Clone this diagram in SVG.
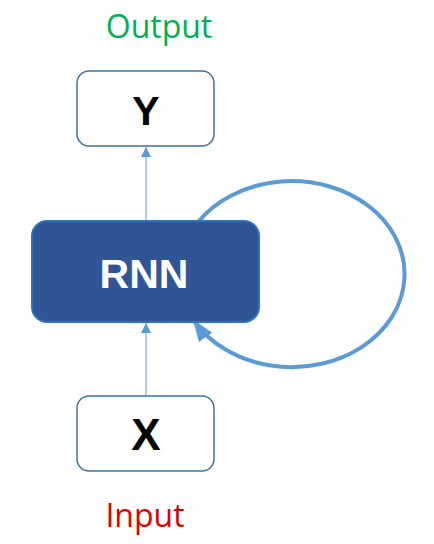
<svg xmlns="http://www.w3.org/2000/svg" width="434" height="544" viewBox="0 0 434 544">
  <style>
    .box { fill: #ffffff; stroke: #41719c; stroke-width: 1.5; }
    .core { fill: #2f5597; stroke: #2e75b6; stroke-width: 2; }
    .sym { font-family: "Liberation Sans", Arial, sans-serif; font-weight: bold; text-anchor: middle; }
    .cap { font-family: "Open Sans", "Liberation Sans", sans-serif; font-size: 32px; text-anchor: middle; }
    .thin { stroke: #5b9bd5; stroke-width: 1; fill: none; }
    .loop { stroke: #5b9bd5; stroke-width: 4; fill: none; }
  </style>
  <defs>
    <marker id="tip" markerUnits="userSpaceOnUse" markerWidth="10" markerHeight="10" refX="10" refY="5" orient="auto">
      <path d="M0,0 L10,5 L0,10 Z" fill="#5b9bd5"/>
    </marker>
    <marker id="bigTip" markerUnits="userSpaceOnUse" markerWidth="22" markerHeight="18" refX="20" refY="9" orient="auto">
      <path d="M0,1 L22,9 L0,17 Z" fill="#5b9bd5"/>
    </marker>
  </defs>

  <text class="cap" x="159" y="38" fill="#00b050">Output</text>
  <text class="cap" x="145" y="527" fill="#e00000">Input</text>

  <g id="connectors">
    <line class="thin" x1="146" y1="221" x2="146" y2="147" marker-end="url(#tip)"/>
    <line class="thin" x1="146" y1="395" x2="146" y2="323" marker-end="url(#tip)"/>
    <path class="loop" d="M198,222 A113,93 0 1 1 194,321" marker-end="url(#bigTip)"/>
  </g>

  <g id="node-y">
    <rect class="box" x="77" y="71" width="137" height="75" rx="12"/>
    <text class="sym" x="146" y="125" font-size="41" fill="#000000">Y</text>
  </g>

  <g id="node-rnn">
    <rect class="core" x="32" y="221" width="227" height="101" rx="15"/>
    <text class="sym" x="144" y="288" font-size="41" fill="#ffffff">RNN</text>
  </g>

  <g id="node-x">
    <rect class="box" x="77" y="396" width="137" height="75" rx="12"/>
    <text class="sym" x="146" y="450" font-size="44" fill="#000000">X</text>
  </g>
</svg>
